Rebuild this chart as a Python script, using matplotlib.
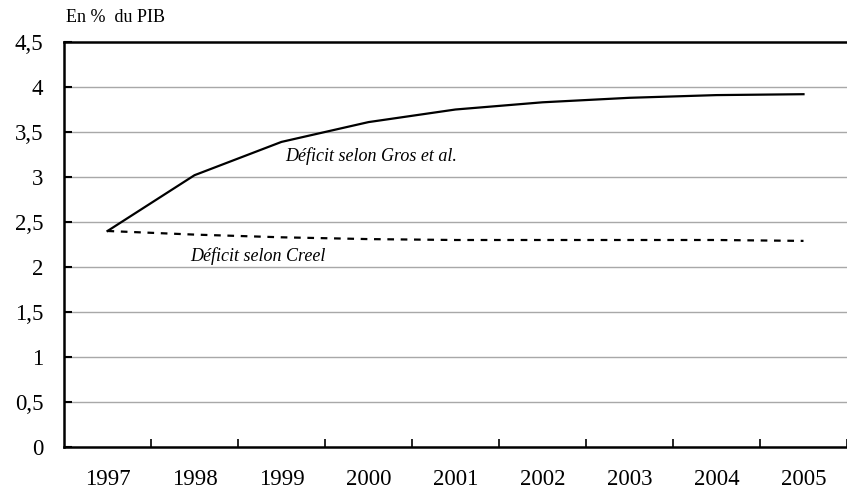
import numpy as np
import matplotlib
matplotlib.use("Agg")
import matplotlib.pyplot as plt

plt.rcParams['font.family'] = ['Liberation Serif', 'DejaVu Serif']

years = ["1997", "1998", "1999", "2000", "2001", "2002", "2003", "2004", "2005"]
gros = [2.40, 3.02, 3.39, 3.61, 3.75, 3.83, 3.88, 3.91, 3.92]
creel = [2.40, 2.36, 2.33, 2.31, 2.30, 2.30, 2.30, 2.30, 2.29]
yticks = [0, 0.5, 1, 1.5, 2, 2.5, 3, 3.5, 4, 4.5]
ylabels = ["0", "0,5", "1", "1,5", "2", "2,5", "3", "3,5", "4", "4,5"]

W, H, DPI = 847, 492, 100
fig = plt.figure(figsize=(W / DPI, H / DPI), dpi=DPI)
ax = fig.add_axes([64 / W, 1 - 447 / H, (847 - 64) / W, (447 - 42) / H])

x = np.arange(len(years))
ax.plot(x, gros, color="black", lw=1.6)
ax.plot(x, creel, color="black", lw=1.6, linestyle=(0, (3, 3)))

ax.set_xlim(-0.5, -0.5 + (847 - 64) / 88)
ax.set_ylim(0, 4.5)
ax.set_yticks(yticks)
ax.set_yticklabels(ylabels, fontsize=16.5)
ax.set_xticks(x)
ax.set_xticklabels(years, fontsize=16.5)
ax.tick_params(axis="x", length=0, pad=16)
ax.set_xticks(np.arange(len(years)) + 0.5, minor=True)
ax.tick_params(axis="x", which="minor", direction="in", length=6, width=1.2)
ax.tick_params(axis="y", direction="in", length=6, width=1.5, pad=15)

for v in yticks[1:-1]:
    ax.axhline(v, color="#a8a8a8", lw=1, zorder=0)

for s in ["left", "bottom", "top"]:
    ax.spines[s].set_linewidth(1.8)
ax.spines["right"].set_visible(False)

ax.text(2.045, 3.18, "Déficit selon Gros et al.", fontsize=13, style="italic",
        va="baseline")
ax.text(0.955, 2.07, "Déficit selon Creel", fontsize=13, style="italic",
        va="baseline")
fig.text(66 / W, 1 - 17 / H, "En %  du PIB", fontsize=13, va="center")

fig.savefig("out.png", dpi=DPI)
